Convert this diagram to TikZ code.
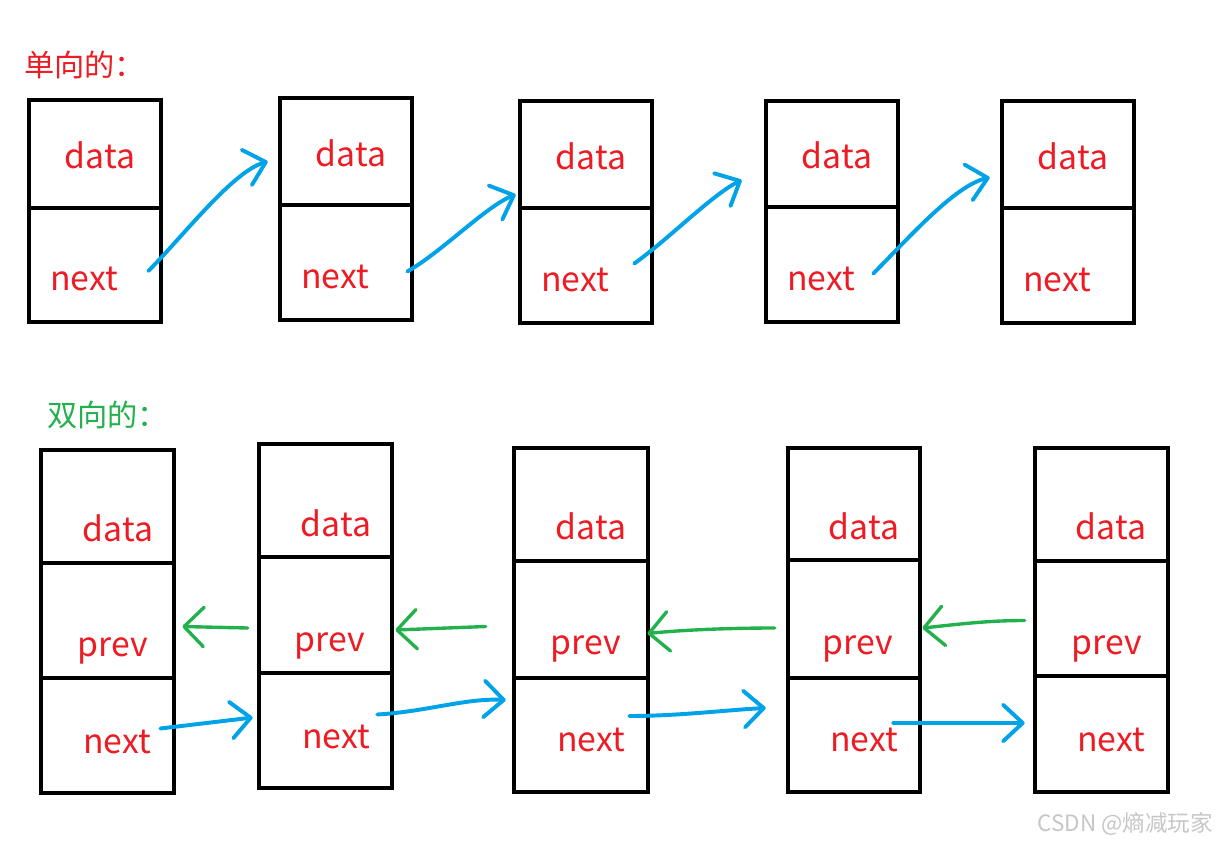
\documentclass[tikz,border=0pt]{standalone}
\usepackage{fontspec}
\setmainfont{Noto Sans CJK SC}
\definecolor{nodered}{RGB}{237, 28, 36}
\definecolor{nextblue}{RGB}{0, 162, 232}
\definecolor{prevgreen}{RGB}{34, 177, 76}
\usetikzlibrary{arrows.meta, fit}

\begin{document}
\begin{tikzpicture}[x=0.025cm, y=-0.025cm,
  cell/.style={draw=black, line width=3.3pt, inner sep=0pt},
  lbl/.style={text=nodered, inner sep=0pt, font=\fontsize{24}{28}\selectfont},
  nextarrow/.style={draw=nextblue, line width=2.8pt, line cap=round, line join=round,
    -{Straight Barb[length=14pt, width=26pt, round]}},
  prevarrow/.style={draw=prevgreen, line width=2.4pt, line cap=round, line join=round,
    -{Straight Barb[length=14pt, width=28pt, round]}}]
  \useasboundingbox (0,0) rectangle (1218,843);

  % Singly linked list
  \node[anchor=west, text=nodered, inner sep=0pt, font=\fontsize{21.5}{24}\selectfont] (title1) at (24,65) {单向的：};

  \node[cell, fit={(29,100) (161,208)}] (s1d) {};
  \node[cell, fit={(29,208) (161,322)}] (s1n) {};
  \node[cell, fit={(280,98) (412,205)}] (s2d) {};
  \node[cell, fit={(280,205) (412,320)}] (s2n) {};
  \node[cell, fit={(520,101) (652,208)}] (s3d) {};
  \node[cell, fit={(520,208) (652,323)}] (s3n) {};
  \node[cell, fit={(766,101) (898,207)}] (s4d) {};
  \node[cell, fit={(766,207) (898,322)}] (s4n) {};
  \node[cell, fit={(1002,101) (1134,208)}] (s5d) {};
  \node[cell, fit={(1002,208) (1134,323)}] (s5n) {};

  \node[lbl] (s1dt) at (100,155) {data};
  \node[lbl] (s1nt) at (84,279) {next};
  \node[lbl] (s2dt) at (351,153) {data};
  \node[lbl] (s2nt) at (335,277) {next};
  \node[lbl] (s3dt) at (591,156) {data};
  \node[lbl] (s3nt) at (575,280) {next};
  \node[lbl] (s4dt) at (837,155) {data};
  \node[lbl] (s4nt) at (821,279) {next};
  \node[lbl] (s5dt) at (1073,156) {data};
  \node[lbl] (s5nt) at (1057,280) {next};

  \draw[nextarrow] ([shift={(-15,6)}]s1n.east) .. controls +(35,-35) and +(-35,10) .. ([shift={(-10,10)}]s2d.west);
  \draw[nextarrow] ([shift={(-7,9)}]s2n.east) .. controls +(35,-20) and +(-30,12) .. ([shift={(-2,40)}]s3d.west);
  \draw[nextarrow] ([shift={(-20,-2)}]s3n.east) .. controls +(35,-25) and +(-30,15) .. ([shift={(-22,26)}]s4d.west);
  \draw[nextarrow] ([shift={(-27,9)}]s4n.east) .. controls +(35,-35) and +(-35,8) .. ([shift={(-10,23)}]s5d.west);

  % Doubly linked list
  \node[anchor=west, text=prevgreen, inner sep=0pt, font=\fontsize{21.5}{24}\selectfont] (title2) at (47,415) {双向的：};

  \node[cell, fit={(41,450) (174,563)}] (b1d) {};
  \node[cell, fit={(41,563) (174,678)}] (b1p) {};
  \node[cell, fit={(41,678) (174,793)}] (b1n) {};
  \node[cell, fit={(259,444) (392,557)}] (b2d) {};
  \node[cell, fit={(259,557) (392,673)}] (b2p) {};
  \node[cell, fit={(259,673) (392,788)}] (b2n) {};
  \node[cell, fit={(514,448) (648,561)}] (b3d) {};
  \node[cell, fit={(514,561) (648,678)}] (b3p) {};
  \node[cell, fit={(514,678) (648,792)}] (b3n) {};
  \node[cell, fit={(788,448) (920,560)}] (b4d) {};
  \node[cell, fit={(788,560) (920,678)}] (b4p) {};
  \node[cell, fit={(788,678) (920,792)}] (b4n) {};
  \node[cell, fit={(1035,448) (1168,561)}] (b5d) {};
  \node[cell, fit={(1035,561) (1168,676)}] (b5p) {};
  \node[cell, fit={(1035,676) (1168,792)}] (b5n) {};

  \node[lbl] (b1dt) at (118,528) {data};
  \node[lbl] (b1pt) at (113,651) {prev};
  \node[lbl] (b1nt) at (117,742) {next};
  \node[lbl] (b2dt) at (336,523) {data};
  \node[lbl] (b2pt) at (330,646) {prev};
  \node[lbl] (b2nt) at (336,737) {next};
  \node[lbl] (b3dt) at (591,526) {data};
  \node[lbl] (b3pt) at (586,649) {prev};
  \node[lbl] (b3nt) at (591,740) {next};
  \node[lbl] (b4dt) at (864,526) {data};
  \node[lbl] (b4pt) at (858,649) {prev};
  \node[lbl] (b4nt) at (864,740) {next};
  \node[lbl] (b5dt) at (1111,526) {data};
  \node[lbl] (b5pt) at (1107,649) {prev};
  \node[lbl] (b5nt) at (1111,740) {next};

  \draw[prevarrow] ([shift={(-9,13)}]b2p.west) -- ([shift={(6,6)}]b1p.east);
  \draw[prevarrow] ([shift={(-26,7)}]b3p.west) -- ([shift={(1,15)}]b2p.east);
  \draw[prevarrow] ([shift={(-11,9)}]b4p.west) .. controls +(-40,0) and +(40,-4) .. ([shift={(-3,14)}]b3p.east);
  \draw[prevarrow] ([shift={(-8,2)}]b5p.west) .. controls +(-40,0) and +(30,-3) .. ([shift={(0,9)}]b4p.east);

  \draw[nextarrow] ([shift={(-16,-7)}]b1n.east) -- ([shift={(-4,-13)}]b2n.west);
  \draw[nextarrow] ([shift={(-17,-16)}]b2n.east) .. controls +(50,-3) and +(-40,-2) .. ([shift={(-6,-35)}]b3n.west);
  \draw[nextarrow] ([shift={(-21,-19)}]b3n.east) .. controls +(50,0) and +(-40,2) .. ([shift={(-20,-27)}]b4n.west);
  \draw[nextarrow] ([shift={(-29,-12)}]b4n.east) -- ([shift={(-8,-11)}]b5n.west);

  \node[anchor=east, text=gray!45, inner sep=0pt, font=\fontsize{16}{18}\selectfont] (mark) at (1213,824) {CSDN @熵减玩家};
\end{tikzpicture}
\end{document}
